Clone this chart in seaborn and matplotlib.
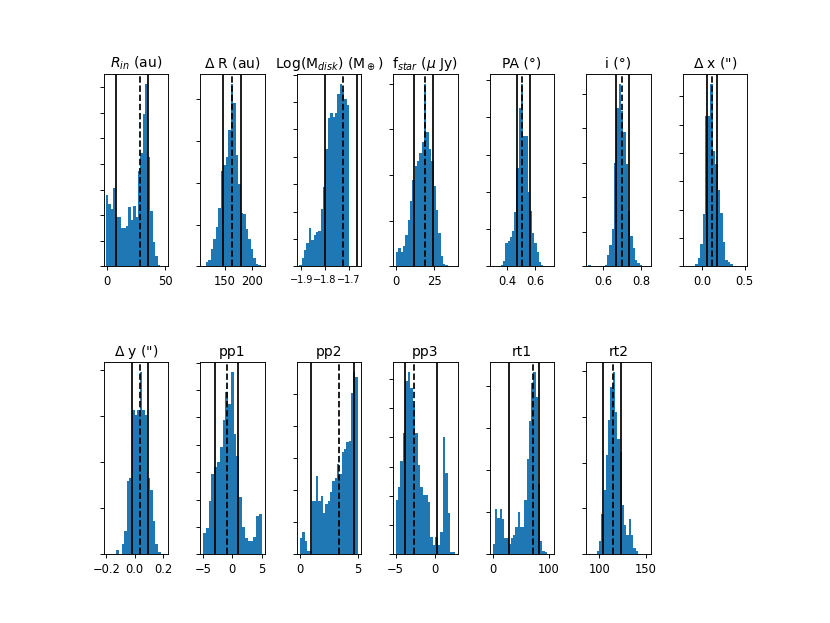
#%% IMPORTS
import numpy as np
import pandas as pd
import matplotlib
matplotlib.use("Agg")
import matplotlib.pyplot as plt
from matplotlib.ticker import MultipleLocator
import seaborn as sns

#%% DATA  (bar heights, in units of one y tick)

titles = [r'$R_{in}$ (au)', r'$\Delta$ R (au)', r'Log(M$_{disk}$) (M$_\oplus$)',
          r'f$_{star}$ ($\mu$ Jy)', 'PA (°)', 'i (°)', r'$\Delta$ x (")',
          r'$\Delta$ y (")', 'pp1', 'pp2', 'pp3', 'rt1', 'rt2']

r_in = [2.78, 2.42, 2.26, 3.08, 1.92, 1.92, 1.49, 1.49, 1.58, 2.34, 1.82,
        2.36, 1.95, 3.73, 4.44, 5.97, 7.14, 4.29, 2.18, 0.96, 0.42, 0.05]
d_r = [0.1, 0.15, 0.42, 0.65, 0.94, 1.39, 2.27, 2.43, 2.61, 3.25, 4.36,
       3.9, 2.65, 1.97, 1.27, 1.25, 0.9, 0.65, 0.42, 0.2, 0.05, 0.03]
log_m = [0.05, 0.3, 0.6, 0.85, 1.4, 0.95, 1.15, 1.25, 1.3, 2.1, 2.9,
         4.3, 5.4, 5.6, 5.45, 5.6, 6.3, 6.67, 6.45, 6.1, 5.9]
f_star = [0.31, 0.4, 0.31, 0.45, 0.68, 1.02, 1.44, 1.89, 2.2, 2.31, 2.49,
          2.73, 4.0, 2.95, 2.57, 2.3, 1.75, 1.24, 0.73, 0.22, 0.05, 0.03]
pa = [0.05, 0.15, 0.62, 0.68, 0.78, 0.95, 1.45, 2.65, 4.25, 4.91, 3.5,
      3.5, 2.0, 1.5, 0.9, 0.62, 0.38, 0.12, 0.04]
inc = [0.04, 0, 0, 0, 0, 0, 0, 0.05, 0.34, 0.63, 1.08, 3.0, 4.59, 5.3,
       4.5, 3.9, 2.98, 1.62, 0.87, 0.53, 0.19, 0.1, 0.03, 0.0]
d_x = [0.03, 0.08, 0.3, 0.8, 1.85, 5.3, 5.3, 6.45, 4.08, 3.6, 2.68, 1.88,
       0.85, 0.24, 0.15, 0.08, 0.03]
d_y = [0.1, 0.02, 0.22, 0.51, 1.6, 1.67, 3.14, 3.02, 3.14, 3.97, 3.14,
       3.02, 1.67, 1.4, 0.72, 0.22, 0.05, 0.02]
pp1 = [0.8, 0.95, 1.96, 2.94, 3.18, 3.37, 3.92, 4.9, 5.94, 5.5, 6.67,
       4.4, 3.6, 2.1, 1.0, 0.61, 0.49, 0.49, 0.64, 1.41, 1.49]
pp2 = [0.5, 0.71, 0.42, 0.1, 0.1, 1.68, 1.68, 2.45, 1.67, 1.83, 1.28, 1.56,
       1.67, 1.96, 2.3, 2.38, 2.83, 2.5, 3.19, 3.28, 3.52, 3.55, 5.03, 5.71, 5.53]
pp3 = [1.86, 2.31, 3.19, 4.14, 5.93, 6.25, 5.7, 5.1, 4.14, 3.06, 2.31, 2.03,
       2.03, 1.8, 0.6, 0.32, 0.6, 0.32, 0.78, 4.0, 2.77, 1.4, 0.09, 0.07]
rt1 = [0.25, 1.09, 0.87, 1.09, 0.85, 0.38, 0.38, 0.24, 0.38, 0.47, 0.66,
       1.01, 0.66, 0.66, 1.29, 2.26, 3.16, 4.08, 4.34, 3.74, 1.68, 0.32,
       0.08, 0.05, 0.02]
rt2 = [0.07, 0.29, 0.89, 1.4, 2.16, 2.92, 3.65, 3.98, 3.1, 2.52, 2.24,
       1.07, 0.64, 0.42, 0.77, 0.42, 0.15, 0.07]

counts = [r_in, d_r, log_m, f_star, pa, inc, d_x, d_y, pp1, pp2, pp3, rt1, rt2]

# histogram range (first edge, last edge) of each parameter
bin_ranges = [(-0.5, 45.7), (115, 216), (-1.908, -1.699), (0, 33.7),
              (0.353, 0.659), (0.525, 0.815), (-0.11, 0.388), (-0.13, 0.20),
              (-5, 5), (0, 5), (-5, 2.55), (0, 100), (97, 141)]

# solid lines (16th / 84th) and dashed line (median)
lo_vals = [7.9, 146.8, -1.80, 11.6, 0.466, 0.666, 0.062, -0.019, -2.96, 0.96, -3.77, 29.1, 103.6]
med_vals = [28.2, 162.4, -1.726, 18.9, 0.506, 0.697, 0.113, 0.039, -0.9, 3.39, -2.66, 71, 114.7]
hi_vals = [35.3, 179.7, -1.664, 24.5, 0.560, 0.734, 0.176, 0.093, 1.03, 4.66, 0.2, 82.6, 123.2]

x_ticks = [[0, 50], [150, 200], [-1.9, -1.8, -1.7], [0, 25], [0.4, 0.6],
           [0.6, 0.8], [0.0, 0.5], [-0.2, 0.0, 0.2], [-5, 0, 5], [0, 5],
           [-5, 0], [0, 100], [100, 150]]
x_lims = [(-2.4, 52.4), (105.3, 222.5), (-1.919, -1.649), (-1.8, 40.2),
          (0.273, 0.736), (0.513, 0.847), (-0.227, 0.528), (-0.219, 0.235),
          (-5.46, 5.5), (-0.28, 5.28), (-5.29, 2.86), (-5.8, 108.7), (85.8, 154.6)]

#%% PLOT

fig, axes = plt.subplots(2, 7, figsize=(10, 7.51), dpi=83)
plt.subplots_adjust(wspace=0.5, hspace=0.5)
axes = axes.ravel()

for k, ax in enumerate(axes[:len(titles)]):
    lo, hi = bin_ranges[k]
    nbins = len(counts[k])
    width = (hi - lo) / nbins
    df = pd.DataFrame({'centre': lo + width * (np.arange(nbins) + 0.5),
                       'height': counts[k]})
    sns.histplot(data=df, x='centre', weights='height', bins=nbins,
                 binrange=(lo, hi), ax=ax, color='#1f77b4', alpha=1,
                 edgecolor='none', linewidth=0)
    ax.axvline(lo_vals[k], color='k')
    ax.axvline(med_vals[k], color='k', ls='--')
    ax.axvline(hi_vals[k], color='k')
    ax.set_xlim(x_lims[k])
    ax.set_xticks(x_ticks[k])
    ax.yaxis.set_major_locator(MultipleLocator(1))
    ax.tick_params(axis='y', labelleft=False)
    if len(x_ticks[k]) == 3 and k == 2:
        # three crowded labels under the disk mass panel
        ax.tick_params(axis='x', labelsize=8.5)
    ax.set_xlabel('')
    ax.set_ylabel('')
    ax.set_title(titles[k])

axes[-1].axis('off')

plt.savefig('out.png', dpi=83)
